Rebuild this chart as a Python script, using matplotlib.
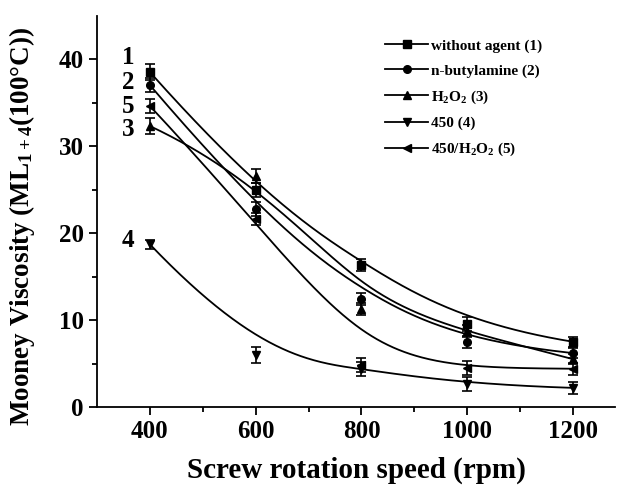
import numpy as np
import matplotlib
matplotlib.use("Agg")
import matplotlib.pyplot as plt
from matplotlib.lines import Line2D

plt.rcParams['font.family'] = ['Liberation Serif', 'DejaVu Serif']
plt.rcParams['font.weight'] = 'bold'
plt.rcParams['mathtext.fontset'] = 'custom'
plt.rcParams['mathtext.rm'] = 'Liberation Serif:bold'
plt.rcParams['mathtext.it'] = 'Liberation Serif:bold:italic'
plt.rcParams['mathtext.bf'] = 'Liberation Serif:bold'

# data
speed = [400, 600, 800, 1000, 1200]
without_agent = [38.5, 24.9, 16.3, 9.5, 7.5]
butylamine = [37.0, 22.8, 12.4, 7.5, 6.2]
h2o2 = [32.3, 26.6, 11.3, 8.7, 5.5]
s450 = [18.7, 6.0, 4.4, 2.6, 2.2]
s450_h2o2 = [34.6, 21.6, 4.8, 4.5, 4.4]

err1 = [0.9, 0.8, 0.7, 0.8, 0.6]
err2 = [0.8, 0.8, 0.7, 0.7, 0.6]
err3 = [0.9, 0.8, 0.7, 0.7, 0.6]
err4 = [0.5, 0.9, 0.8, 0.8, 0.7]
err5 = [0.8, 0.7, 0.8, 0.8, 0.7]

labels = ['without agent (1)', 'n-butylamine (2)', 'H$_2$O$_2$ (3)',
          '450 (4)', '450/H$_2$O$_2$ (5)']
markers = ['s', 'o', '^', 'v', '<']
tags = ['1', '2', '3', '4', '5']
tag_y = [40.2, 37.3, 31.9, 19.2, 34.6]


def bspline(xs, ys, n=300, k=3):
    # clamped cubic B-spline using the points as control points (Origin style)
    c = np.column_stack([xs, ys]).astype(float)
    m = len(c)
    t = np.concatenate([np.zeros(k), np.linspace(0, 1, m - k + 1), np.ones(k)])
    u = np.linspace(0, 1, n)
    B = np.zeros((n, len(t) - 1))
    for i in range(len(t) - 1):
        B[:, i] = (t[i] <= u) & (u < t[i + 1])
    last = np.where(t < 1)[0].max()
    B[-1, :] = 0
    B[-1, last] = 1
    for d in range(1, k + 1):
        nb = np.zeros((n, len(t) - 1 - d))
        for i in range(len(t) - 1 - d):
            a = t[i + d] - t[i]
            b = t[i + d + 1] - t[i + 1]
            left = (u - t[i]) / a * B[:, i] if a > 0 else 0
            right = (t[i + d + 1] - u) / b * B[:, i + 1] if b > 0 else 0
            nb[:, i] = left + right
        B = nb
    p = B @ c
    return p[:, 0], p[:, 1]


fig = plt.figure(figsize=(6.2, 4.98), dpi=100)
ax = fig.add_axes([0.1565, 0.1827, 0.836, 0.786])

series = [without_agent, butylamine, h2o2, s450, s450_h2o2]
errs = [err1, err2, err3, err4, err5]
handles = []
for ys, e, mk, lab in zip(series, errs, markers, labels):
    cx, cy = bspline(speed, ys)
    ax.plot(cx, cy, color='black', lw=1.3)
    ax.errorbar(speed, ys, yerr=e, fmt=mk, color='black', ms=5.5,
                capsize=3.5, elinewidth=1.2, capthick=1.2)
    handles.append(Line2D([], [], color='black', lw=1.3, marker=mk, ms=5.5, label=lab))

for tg, ty in zip(tags, tag_y):
    ax.text(359, ty, tg, fontsize=18, fontweight='bold', ha='center', va='center')

ax.set_xlim(300, 1280)
ax.set_ylim(0, 45)
ax.set_xticks([400, 600, 800, 1000, 1200])
ax.set_xticks([500, 700, 900, 1100], minor=True)
ax.set_yticks([0, 10, 20, 30, 40])
ax.set_yticks([5, 15, 25, 35], minor=True)
ax.spines['top'].set_visible(False)
ax.spines['right'].set_visible(False)
ax.spines['left'].set_linewidth(1.3)
ax.spines['bottom'].set_linewidth(1.3)
ax.tick_params(which='major', length=6, width=1.3, labelsize=18)
ax.tick_params(which='minor', length=3.5, width=1.3)

ax.set_xlabel('Screw rotation speed (rpm)', fontsize=21, fontweight='bold', labelpad=10)
fig.text(22 / 620, 0.546, 'Mooney Viscosity (ML$_{1+4}$(100\u00b0C))', fontsize=19.5,
         fontweight='bold', rotation=90, ha='center', va='center')

ax.legend(handles=handles, loc='upper left', bbox_to_anchor=(0.53, 0.975), frameon=False,
          handlelength=2.8, handletextpad=0.2, labelspacing=0.7,
          prop={'weight': 'bold', 'size': 11})

fig.savefig('out.png', dpi=100)
